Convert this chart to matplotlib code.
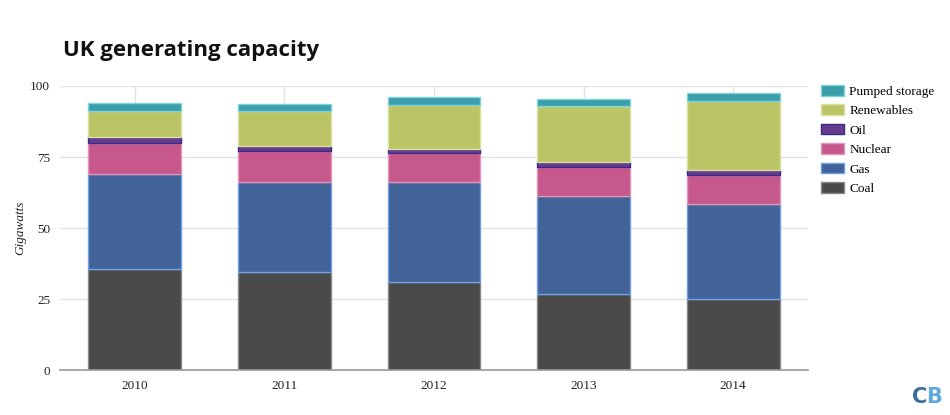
import matplotlib
matplotlib.use("Agg")
import matplotlib.pyplot as plt
import numpy as np
from matplotlib.patches import Patch

years = ["2010", "2011", "2012", "2013", "2014"]
coal = [35.4, 34.4, 31.1, 26.6, 24.9]
gas = [33.7, 31.8, 35.0, 34.8, 33.6]
nuclear = [10.7, 10.9, 10.2, 10.2, 10.2]
oil = [2.1, 1.7, 1.6, 1.6, 1.6]
renewables = [9.2, 12.3, 15.5, 19.9, 24.5]
pumped = [2.8, 2.6, 2.6, 2.4, 2.6]

series = [
    ("Coal", coal, "#4a4a4a", "#8a8a8a"),
    ("Gas", gas, "#416398", "#6fa0e8"),
    ("Nuclear", nuclear, "#c6588c", "#e493b8"),
    ("Oil", oil, "#673c8e", "#3a2a8a"),
    ("Renewables", renewables, "#bcc566", "#d9e0a0"),
    ("Pumped storage", pumped, "#3a9faa", "#7fd3dc"),
]

fig = plt.figure(figsize=(9.5, 4.15), dpi=100)
ax = fig.add_axes([60/950, 45/415, 748/950, 284/415])

x = np.arange(len(years))
bottom = np.zeros(len(years))
handles = []
for name, vals, fc, ec in series:
    v = np.array(vals)
    ax.bar(x, v, width=0.62, bottom=bottom, color=fc, edgecolor=ec,
           linewidth=1.0, zorder=3)
    bottom += v
    handles.append(Patch(facecolor=fc, edgecolor=ec, linewidth=1.0, label=name))

ax.set_xlim(-0.5, len(years) - 0.5)
ax.set_ylim(0, 100)
ax.set_yticks([0, 25, 50, 75, 100])
ax.set_xticks(x)
ax.set_xticklabels(years)
ax.grid(True, color="#e3e3e3", linewidth=1.0, zorder=0)
ax.set_axisbelow(True)
for s in ["top", "right", "left"]:
    ax.spines[s].set_visible(False)
ax.spines["bottom"].set_color("#9a9a9a")
ax.spines["bottom"].set_linewidth(1.2)
ax.spines["bottom"].set_zorder(4)
ax.tick_params(length=0, labelsize=9.5, colors="#222222", pad=7)
for lab in ax.get_xticklabels() + ax.get_yticklabels():
    lab.set_family("Liberation Serif")
ax.set_ylabel("Gigawatts", family="Liberation Serif", style="italic",
              fontsize=9.5, color="#222222", labelpad=2)
ax.yaxis.set_label_coords(-34/748, 0.5)

leg = fig.legend(handles=handles[::-1], loc="upper left",
                 bbox_to_anchor=(821/950, 1 - 85/415), frameon=False,
                 prop={"family": "Liberation Serif", "size": 9.5},
                 handlelength=1.75, handleheight=0.85, labelspacing=0.5,
                 handletextpad=0.4, borderaxespad=0, borderpad=0)

fig.text(63/950, 1 - 56/415, "UK generating capacity", family="Open Sans",
         weight="bold", fontsize=16, color="#111111", va="baseline")

fig.text(912/950, 1 - 403/415, "C", family="DejaVu Sans",
         weight="bold", fontsize=15, color="#3b6c9a", va="baseline")
fig.text(926/950, 1 - 403/415, "B", family="DejaVu Sans",
         weight="bold", fontsize=15, color="#5fa8e0", va="baseline")

fig.savefig("out.png", dpi=100)
